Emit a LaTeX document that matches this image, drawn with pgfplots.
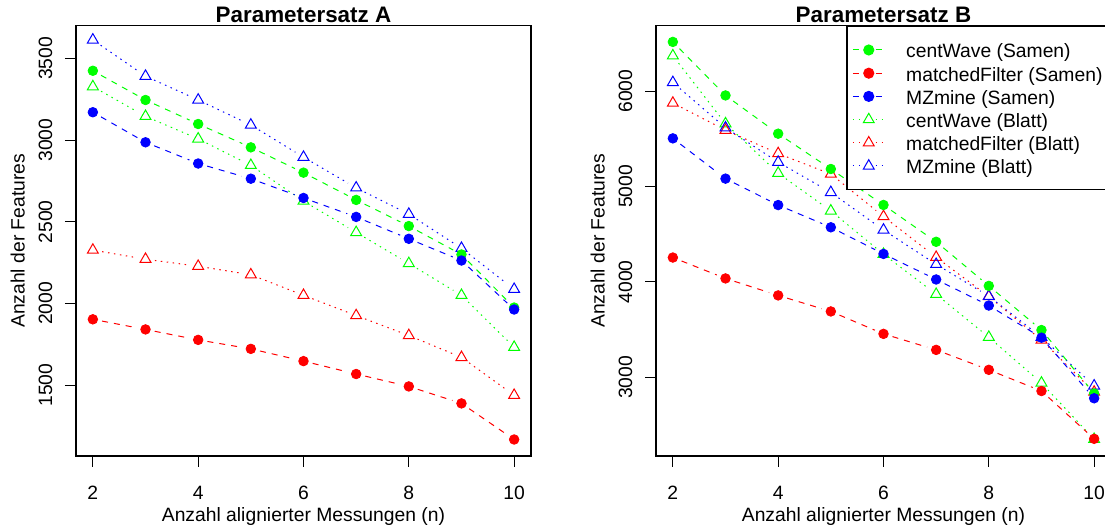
\documentclass[border=0pt]{standalone}
\usepackage{fontspec}
\setmainfont{Liberation Sans}
\usepackage{pgfplots}
\usepackage{pgfplotstable}
\pgfplotsset{compat=1.18}
\usetikzlibrary{decorations.pathreplacing}
\definecolor{rgreen}{RGB}{0,255,0}
\definecolor{rred}{RGB}{255,0,0}
\definecolor{rblue}{RGB}{0,0,255}

\pgfplotstableread{
n cwS mfS mzS cwB mfB mzB
2 3425 1903 3171 3328 2327 3614
3 3246 1841 2987 3146 2271 3392
4 3099 1777 2857 3008 2228 3246
5 2956 1722 2764 2846 2176 3093
6 2801 1647 2646 2627 2050 2896
7 2634 1568 2530 2435 1926 2708
8 2474 1492 2396 2245 1804 2547
9 2300 1388 2263 2050 1670 2338
10 1975 1167 1963 1732 1438 2087
}\tabA

\pgfplotstableread{
n cwS mfS mzS cwB mfB mzB
2 6515 4255 5504 6370 5874 6090
3 5954 4036 5082 5658 5590 5615
4 5553 3858 4805 5139 5345 5255
5 5183 3690 4572 4744 5130 4938
6 4806 3455 4293 4290 4685 4544
7 4420 3287 4025 3870 4258 4184
8 3958 3078 3752 3420 3847 3850
9 3495 2856 3415 2940 3390 3420
10 2830 2355 2780 2350 2845 2910
}\tabB

\tikzset{
  rdash/.style={dash pattern=on 3pt off 3pt},
  rdot/.style={dash pattern=on 0.75pt off 2.25pt},
  bseg/.style 2 args={draw=none, postaction={decorate, decoration={show path construction,
     lineto code={\draw[#1, #2, line width=0.5pt, shorten <=4.7pt, shorten >=4.7pt] (\tikzinputsegmentfirst) -- (\tikzinputsegmentlast);}}}},
}

\pgfplotsset{
  rbase/.style={
    scale only axis, width=227.5pt, height=215.15pt,
    xmin=1.68, xmax=10.32,
    xtick={2,4,6,8,10},
    tick align=outside, xtick pos=left, ytick pos=left,
    major tick length=5.5pt,
    tick style={black, line width=0.5pt},
    axis line style={line width=0.75pt, black},
    /pgf/number format/assume math mode=true,
    /pgf/number format/1000 sep={},
    tick label style={font=\fontsize{9.65}{11}\selectfont},
    label style={font=\fontsize{9.65}{11}\selectfont},
    xticklabel style={anchor=base, yshift=-16.3pt, inner sep=0pt},
    yticklabel style={xshift=-6.4pt, rotate=90, anchor=base, inner sep=0pt},
    xlabel={Anzahl alignierter Messungen (n)},
    ylabel={Anzahl der Features},
    xlabel style={at={(axis description cs:0.5,-0.1533)}, anchor=base},
    ylabel style={at={(axis description cs:-0.1129,0.5)}, anchor=base, rotate=0},
    every axis title shift=0pt,
    title style={font=\fontsize{11.2}{13}\selectfont\bfseries, at={(axis description cs:0.5,1)}, anchor=base, yshift=1.4pt},
    clip=false,
  },
  mtri/.style={only marks, mark=triangle, mark size=3.15pt, mark options={solid, line width=0.5pt}, forget plot},
  mcirc/.style={only marks, mark=*, mark size=2.4pt, mark options={solid}, forget plot},
}

\begin{document}
\begin{tikzpicture}
\begin{axis}[rbase, at={(0pt,0pt)}, anchor=south west,
  title={Parametersatz A},
  ymin=1066, ymax=3701,
  ytick={1500,2000,2500,3000,3500},
]
\addplot[bseg={rgreen}{rdot}, forget plot] table[x=n,y=cwB]{\tabA};
\addplot[mtri, rgreen] table[x=n,y=cwB]{\tabA};
\addplot[bseg={rred}{rdot}, forget plot] table[x=n,y=mfB]{\tabA};
\addplot[mtri, rred] table[x=n,y=mfB]{\tabA};
\addplot[bseg={rblue}{rdot}, forget plot] table[x=n,y=mzB]{\tabA};
\addplot[mtri, rblue] table[x=n,y=mzB]{\tabA};
\addplot[bseg={rgreen}{rdash}, forget plot] table[x=n,y=cwS]{\tabA};
\addplot[mcirc, rgreen] table[x=n,y=cwS]{\tabA};
\addplot[bseg={rred}{rdash}, forget plot] table[x=n,y=mfS]{\tabA};
\addplot[mcirc, rred] table[x=n,y=mfS]{\tabA};
\addplot[bseg={rblue}{rdash}, forget plot] table[x=n,y=mzS]{\tabA};
\addplot[mcirc, rblue] table[x=n,y=mzS]{\tabA};
\end{axis}

\begin{axis}[rbase, at={(290pt,0pt)}, anchor=south west,
  title={Parametersatz B},
  ymin=2175, ymax=6685,
  ytick={3000,4000,5000,6000},
  legend cell align=left,
  legend style={at={(axis description cs:0.4184,1)}, anchor=north west,
    draw=black, line width=0.75pt, fill=white,
    inner xsep=2.65pt, inner ysep=5.975pt, row sep=0pt, column sep=10.55pt,
    font=\fontsize{9.65}{11}\selectfont,
    nodes={inner sep=0pt, text height=9.725pt, text depth=1.875pt}},
  legend image code/.code={
    \draw[#1, mark=none, line width=0.5pt] (0pt,0pt) -- (4.5pt,0pt);
    \draw[#1, mark=none, line width=0.5pt] (11.35pt,0pt) -- (15.85pt,0pt);
    \draw[#1] plot[only marks] coordinates {(7.925pt,0pt)};
  },
]
\addlegendimage{rgreen, rdash, mark=*, mark size=2.4pt, mark options={solid}}
\addlegendentry{\makebox[104pt][l]{centWave (Samen)}}
\addlegendimage{rred, rdash, mark=*, mark size=2.4pt, mark options={solid}}
\addlegendentry{\makebox[104pt][l]{matchedFilter (Samen)}}
\addlegendimage{rblue, rdash, mark=*, mark size=2.4pt, mark options={solid}}
\addlegendentry{\makebox[104pt][l]{MZmine (Samen)}}
\addlegendimage{rgreen, rdot, mark=triangle, mark size=3.15pt, mark options={solid, line width=0.5pt}}
\addlegendentry{\makebox[104pt][l]{centWave (Blatt)}}
\addlegendimage{rred, rdot, mark=triangle, mark size=3.15pt, mark options={solid, line width=0.5pt}}
\addlegendentry{\makebox[104pt][l]{matchedFilter (Blatt)}}
\addlegendimage{rblue, rdot, mark=triangle, mark size=3.15pt, mark options={solid, line width=0.5pt}}
\addlegendentry{\makebox[104pt][l]{MZmine (Blatt)}}
\addplot[bseg={rgreen}{rdot}, forget plot] table[x=n,y=cwB]{\tabB};
\addplot[mtri, rgreen] table[x=n,y=cwB]{\tabB};
\addplot[bseg={rred}{rdot}, forget plot] table[x=n,y=mfB]{\tabB};
\addplot[mtri, rred] table[x=n,y=mfB]{\tabB};
\addplot[bseg={rblue}{rdot}, forget plot] table[x=n,y=mzB]{\tabB};
\addplot[mtri, rblue] table[x=n,y=mzB]{\tabB};
\addplot[bseg={rgreen}{rdash}, forget plot] table[x=n,y=cwS]{\tabB};
\addplot[mcirc, rgreen] table[x=n,y=cwS]{\tabB};
\addplot[bseg={rred}{rdash}, forget plot] table[x=n,y=mfS]{\tabB};
\addplot[mcirc, rred] table[x=n,y=mfS]{\tabB};
\addplot[bseg={rblue}{rdash}, forget plot] table[x=n,y=mzS]{\tabB};
\addplot[mcirc, rblue] table[x=n,y=mzS]{\tabB};
\end{axis}
\pgfresetboundingbox
\useasboundingbox (-38pt,-36.5pt) rectangle (514.5pt,228pt);
\end{tikzpicture}
\end{document}
